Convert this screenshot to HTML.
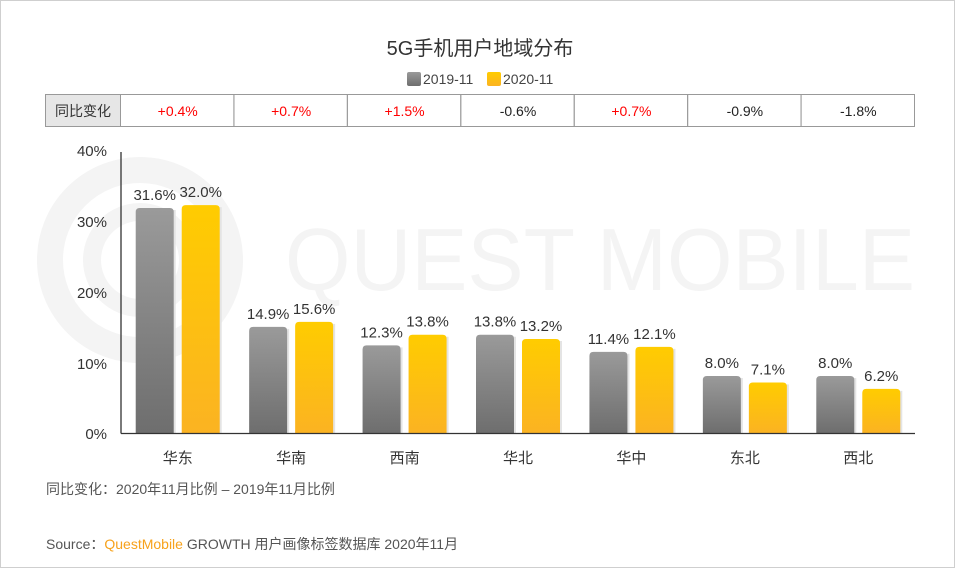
<!DOCTYPE html>
<html><head><meta charset="utf-8"><style>
html,body{margin:0;padding:0;background:#fff}
svg{display:block}
text{font-family:"Liberation Sans","Noto Sans CJK SC",sans-serif}
</style></head><body>
<svg id="s" width="960" height="568" xmlns="http://www.w3.org/2000/svg">
<defs>
<linearGradient id="gg" x1="0" y1="0" x2="0" y2="1"><stop offset="0" stop-color="#9a9a9a"/><stop offset="1" stop-color="#6e6e6e"/></linearGradient>
<linearGradient id="gy" x1="0" y1="0" x2="0" y2="1"><stop offset="0" stop-color="#ffcc00"/><stop offset="1" stop-color="#fbb322"/></linearGradient>
</defs>
<rect x="0.5" y="0.5" width="954" height="567" fill="#fff" stroke="#cfcfcf"/>
<g fill="none" stroke="#f4f4f4">
<circle cx="140" cy="260" r="90" stroke-width="26"/>
<circle cx="140" cy="260" r="48" stroke-width="18"/>
</g>
<text x="285" y="290" font-size="88" fill="#f4f4f4" textLength="630" lengthAdjust="spacingAndGlyphs">QUEST MOBILE</text>
<text x="480" y="55" font-size="20" fill="#333" text-anchor="middle">5G手机用户地域分布</text>
<rect x="407" y="72" width="14" height="14" rx="2" fill="url(#gg)"/>
<text x="423" y="84" font-size="14" fill="#444">2019-11</text>
<rect x="487" y="72" width="14" height="14" rx="2" fill="url(#gy)"/>
<text x="503" y="84" font-size="14" fill="#444">2020-11</text>
<g id="tbl"></g>
<g id="bars"></g>
<line x1="121" y1="152" x2="121" y2="433.5" stroke="#333" stroke-width="1.3"/>
<line x1="121" y1="433.5" x2="915" y2="433.5" stroke="#333" stroke-width="1.3"/>
<g font-size="15" fill="#333" text-anchor="end">
<text x="107" y="156">40%</text><text x="107" y="227">30%</text><text x="107" y="298">20%</text><text x="107" y="369">10%</text><text x="107" y="439">0%</text>
</g>
<text x="46" y="494" font-size="14" fill="#555">同比变化：2020年11月比例 – 2019年11月比例</text>
<text x="46" y="549" font-size="14" fill="#555">Source：<tspan fill="#f7a21b">QuestMobile</tspan> GROWTH 用户画像标签数据库 2020年11月</text>
</svg>
<script>
var ns="http://www.w3.org/2000/svg";
function el(p,t,a,txt){var e=document.createElementNS(ns,t);for(var k in a)e.setAttribute(k,a[k]);if(txt!=null)e.textContent=txt;p.appendChild(e);return e;}
var names=["华东","华南","西南","华北","华中","东北","西北"];
var g=[31.6,14.9,12.3,13.8,11.4,8.0,8.0],y=[32.0,15.6,13.8,13.2,12.1,7.1,6.2];
var ch=["+0.4%","+0.7%","+1.5%","-0.6%","+0.7%","-0.9%","-1.8%"];
var T=document.getElementById("tbl"),B=document.getElementById("bars");
var w=(915-121)/7;
el(T,"rect",{x:45.5,y:94.5,width:75,height:32,fill:"#e6e6e6",stroke:"#999"});
el(T,"text",{x:83,y:116,"font-size":14,fill:"#333","text-anchor":"middle"},"同比变化");
for(var i=0;i<7;i++){
 var x0=120.5+w*i,c=121+w*(i+0.5);
 el(T,"rect",{x:x0,y:94.5,width:w,height:32,fill:"none",stroke:"#999"});
 el(T,"text",{x:c,y:116,"font-size":14,fill:ch[i][0]=="+"?"#ff0000":"#222","text-anchor":"middle"},ch[i]);
 var hg=g[i]*7.12,hy=y[i]*7.12;
 el(B,"rect",{x:c-40,y:433-hg+2,width:38,height:hg-2,fill:"#e4e4e4"});
 el(B,"rect",{x:c+6,y:433-hy+2,width:38,height:hy-2,fill:"#e4e4e4"});
 el(B,"path",{d:"M"+(c-42)+" 433V"+(433-hg+4)+"q0 -4 4 -4h30q4 0 4 4V433Z",fill:"url(#gg)"});
 el(B,"path",{d:"M"+(c+4)+" 433V"+(433-hy+4)+"q0 -4 4 -4h30q4 0 4 4V433Z",fill:"url(#gy)"});
 el(B,"text",{x:c-23,y:433-hg-8,"font-size":15,fill:"#333","text-anchor":"middle"},g[i].toFixed(1)+"%");
 el(B,"text",{x:c+23,y:433-hy-8,"font-size":15,fill:"#333","text-anchor":"middle"},y[i].toFixed(1)+"%");
 el(B,"text",{x:c,y:463,"font-size":15,fill:"#333","text-anchor":"middle"},names[i]);
}
</script>
</body></html>
